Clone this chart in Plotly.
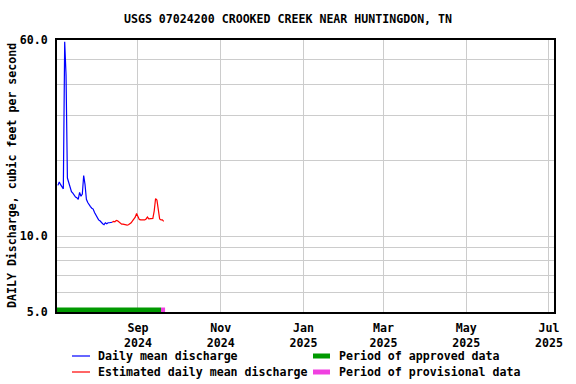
import datetime as dt
import plotly.graph_objects as go

# ---------------- data ----------------
title_text = "USGS 07024200 CROOKED CREEK NEAR HUNTINGDON, TN"
y_title = "DAILY Discharge, cubic feet per second"

start_date = dt.date(2024, 7, 4)
discharge = [15.9, 16.4, 16.0, 15.6, 15.4, 59.0, 43.6, 17.0, 16.2, 15.6,
             15.0, 14.8, 14.5, 14.3, 14.2, 14.0, 14.9, 14.4, 14.7, 17.4,
             16.0, 14.0, 13.6, 13.3, 13.1, 12.9, 12.8, 12.4, 12.1, 11.8,
             11.6, 11.5, 11.3, 11.2, 11.1, 11.3, 11.2, 11.3, 11.3, 11.3,
             11.35, 11.45, 11.4, 11.55, 11.5, 11.35, 11.2, 11.15, 11.15, 11.1,
             11.05, 11.05, 11.1, 11.2, 11.3, 11.5, 11.65, 11.9, 12.3, 12.0,
             11.65, 11.6, 11.6, 11.6, 11.6, 11.7, 11.9, 11.7, 11.7, 11.7,
             11.75, 12.6, 14.1, 13.9, 12.8, 11.7, 11.6, 11.6, 11.45]
estimated_from = dt.date(2024, 8, 13)

approved_period = ["2024-07-03", "2024-09-18"]
provisional_period = ["2024-09-18", "2024-09-21"]

x_range = ["2024-07-03 08:00", "2025-07-04 17:00"]
x_tickvals = ["2024-09-01", "2024-11-01", "2025-01-01", "2025-03-01", "2025-05-01", "2025-07-01"]
x_ticktext = ["Sep<br>2024", "Nov<br>2024", "Jan<br>2025", "Mar<br>2025", "May<br>2025", "Jul<br>2025"]

y_range = [5.0, 60.0]
y_tickvals = [5, 6, 7, 8, 9, 10, 20, 30, 40, 50, 60]
y_ticktext = ["5.0", "", "", "", "", "10.0", "", "", "", "", "60.0"]

legend_labels = ["Daily mean discharge", "Estimated daily mean discharge",
                 "Period of approved data", "Period of provisional data"]

# colours
BLUE = "#0000ff"
RED = "#ff0000"
GREEN = "#009900"
PINK = "#f040e0"

# ---------------- build ----------------
dates = [start_date + dt.timedelta(days=i) for i in range(len(discharge))]
blue_x = [d for d in dates if d <= estimated_from]
blue_y = [v for d, v in zip(dates, discharge) if d <= estimated_from]
red_x = [d for d in dates if d >= estimated_from]
red_y = [v for d, v in zip(dates, discharge) if d >= estimated_from]

FONT = dict(family="DejaVu Sans Mono", size=11.6, color="black", weight="bold")

W, H = 576, 384
L, R, T, B = 57, 22, 40, 72
PW, PH = W - L - R, H - T - B

fig = go.Figure()
fig.add_trace(go.Scatter(x=blue_x, y=blue_y, mode="lines",
                         line=dict(color=BLUE, width=1.2), showlegend=False))
fig.add_trace(go.Scatter(x=red_x, y=red_y, mode="lines",
                         line=dict(color=RED, width=1.2), showlegend=False))
fig.add_trace(go.Scatter(x=approved_period, y=[y_range[0]] * 2, mode="lines",
                         line=dict(color=GREEN, width=9), showlegend=False))
fig.add_trace(go.Scatter(x=provisional_period, y=[y_range[0]] * 2, mode="lines",
                         line=dict(color=PINK, width=9), showlegend=False))

# manual legend (paper coordinates from pixel positions)
def px(xp):
    return (xp - L) / PW

def py(yp):
    return (H - B - yp) / PH

legend_items = [
    (72, 90, 96, 356, BLUE, 1.2, legend_labels[0]),
    (72, 90, 96, 372, RED, 1.2, legend_labels[1]),
    (313, 330, 337, 356, GREEN, 5, legend_labels[2]),
    (313, 330, 337, 372, PINK, 5, legend_labels[3]),
]
shapes = []
annotations = []
for x0, x1, xt, yy, col, lw, lab in legend_items:
    shapes.append(dict(type="line", xref="paper", yref="paper",
                       x0=px(x0), x1=px(x1), y0=py(yy), y1=py(yy),
                       line=dict(color=col, width=lw)))
    annotations.append(dict(xref="paper", yref="paper", x=px(xt), y=py(yy),
                            text=lab, showarrow=False, xanchor="left",
                            yanchor="middle", font=FONT))

# y-axis title as rotated annotation
annotations.append(dict(xref="paper", yref="paper", x=px(12), y=0.5,
                        text=y_title, showarrow=False, textangle=-90,
                        xanchor="center", yanchor="middle", font=FONT))

fig.update_layout(
    width=W, height=H,
    margin=dict(l=L, r=R, t=T, b=B, autoexpand=False),
    paper_bgcolor="white", plot_bgcolor="white",
    title=dict(text=title_text, x=0.5, xanchor="center", y=1 - 19 / H,
               yanchor="middle", yref="container", font=FONT),
    shapes=shapes, annotations=annotations,
    showlegend=False,
)
fig.update_xaxes(
    type="date", range=x_range, tickmode="array",
    tickvals=x_tickvals, ticktext=x_ticktext,
    showgrid=True, gridcolor="#cccccc", gridwidth=1,
    showline=True, linecolor="black", linewidth=2, mirror=True,
    ticks="", ticklabelstandoff=4, tickfont=FONT, zeroline=False,
    automargin=False,
)
fig.update_yaxes(
    type="log", range=[0.69897000433, 1.77815125038], tickmode="array",
    tickvals=y_tickvals, ticktext=y_ticktext,
    showgrid=True, gridcolor="#cccccc", gridwidth=1,
    showline=True, linecolor="black", linewidth=2, mirror=True,
    ticks="", ticklabelstandoff=5, tickfont=FONT, zeroline=False,
    automargin=False,
)

fig.write_html(
    "out.html",
    config={"displayModeBar": False},
    post_script="document.body.style.margin='0';document.body.style.padding='0';",
)
